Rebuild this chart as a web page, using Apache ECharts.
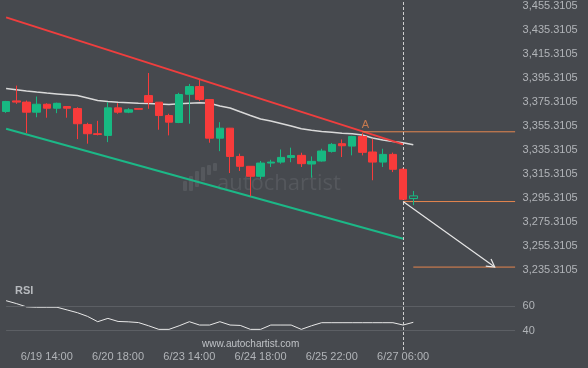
<!DOCTYPE html>
<html><head><meta charset="utf-8">
<script src="https://cdn.jsdelivr.net/npm/echarts@6/dist/echarts.min.js"></script>
<style>html,body{margin:0;padding:0;background:#46494e;}#c{width:588px;height:368px;}</style>
</head><body><div id="c"></div>
<script>
// ---- data ----
const opens  = [3367.2,3376.0,3375.0,3366.6,3373.2,3369.9,3371.3,3369.6,3356.4,3348.7,3347.3,3370.2,3366.6,3369.6,3380.4,3374.9,3363.8,3358.0,3381.5,3387.9,3377.1,3345.0,3353.3,3329.8,3321.6,3313.3,3324.3,3325.1,3329.0,3330.7,3323.5,3326.0,3334.0,3340.4,3338.4,3346.4,3333.5,3325.1,3331.5,3319.1,3294.8];
const closes = [3375.5,3375.0,3366.6,3373.2,3369.9,3374.0,3369.9,3357.0,3348.7,3348.1,3370.2,3366.6,3368.6,3369.0,3374.9,3363.8,3358.3,3381.3,3387.9,3377.1,3345.0,3353.3,3329.8,3321.6,3313.3,3324.3,3325.1,3329.0,3330.5,3323.8,3325.7,3334.3,3339.8,3338.7,3346.4,3333.2,3325.1,3331.5,3319.1,3294.2,3297.0];
const lows   = [3366.0,3373.5,3349.2,3362.4,3362.0,3365.8,3362.0,3344.2,3340.4,3347.3,3341.7,3365.3,3365.8,3368.8,3369.4,3352.0,3347.3,3357.5,3357.0,3375.7,3341.2,3334.2,3316.0,3317.7,3296.7,3311.0,3321.0,3323.8,3325.0,3321.0,3312.2,3325.5,3333.0,3329.3,3330.7,3330.7,3310.0,3321.0,3316.8,3293.6,3289.3];
const highs  = [3376.0,3388.7,3376.3,3379.6,3374.0,3374.5,3371.5,3370.7,3357.8,3359.4,3374.9,3374.1,3370.0,3369.8,3399.2,3375.0,3365.3,3382.7,3390.1,3393.4,3377.3,3358.3,3353.5,3332.1,3321.8,3326.0,3327.0,3335.6,3337.1,3332.9,3329.8,3336.2,3341.0,3343.9,3347.0,3349.2,3344.5,3336.2,3333.0,3320.0,3301.1];
const maValues = [3386.2,3385.2,3384.2,3383.3,3382.5,3381.8,3381.1,3380.4,3378.4,3376.3,3375.5,3374.8,3374.4,3374.0,3373.8,3373.5,3372.9,3373.6,3374.0,3374.4,3374.0,3371.7,3370.1,3366.9,3363.9,3361.0,3359.3,3357.2,3355.1,3352.8,3351.6,3350.6,3349.9,3349.1,3348.7,3347.7,3345.2,3343.5,3342.3,3341.2,3339.5];
const rsiValues = [64.3,62.0,59.3,59.0,59.0,59.0,56.8,54.6,51.6,47.3,50.0,47.5,47.2,46.6,44.0,41.1,41.1,44.0,47.3,44.6,44.6,47.3,44.6,44.3,41.1,41.1,44.6,44.6,44.6,41.1,44.0,46.5,46.5,46.5,46.5,46.5,46.5,46.5,46.5,44.6,46.8];
const resistanceLine = [[0, 3445.4], [39, 3339.8]];
const supportLine = [[0, 3352.8], [39, 3261.4]];
const levelA = 3350.3, levelA_from = 35;
const levelEnd = 3292.3, levelEnd_from = 39;
const levelTarget = 3237.8, levelTarget_from = 40;
const arrowFrom = [39, 3292.3], arrowTo = [48, 3237.8];
const patternEndIdx = 39;
const nCategories = 51;
const tickIdx = [4, 11, 18, 25, 32, 39];
const tickLabels = ['6/19 14:00', '6/20 18:00', '6/23 14:00', '6/24 18:00', '6/25 22:00', '6/27 06:00'];
const yTicks = [3235.3105,3255.3105,3275.3105,3295.3105,3315.3105,3335.3105,3355.3105,3375.3105,3395.3105,3415.3105,3435.3105,3455.3105];
const rsiTicks = [40, 60];
const pointLabel = 'A';

// ---- styling ----
const BG = '#46494e', UP = '#17b982', DOWN = '#f83b3b', ORANGE = '#e5864f', TXT = '#b1b4b8';
const FONT = '"Liberation Sans", Arial, sans-serif';
const categories = Array.from({length: nCategories}, (_, i) => String(i));
const labelMap = {}; tickIdx.forEach((k, i) => labelMap[k] = tickLabels[i]);

const candleData = opens.map((o, i) => {
  const item = {value: [o, closes[i], lows[i], highs[i]]};
  if (i === opens.length - 1) item.itemStyle = {color: BG, borderColor: UP, color0: BG, borderColor0: UP};
  return item;
});
const fmt = v => Number(v).toLocaleString('en-US', {minimumFractionDigits: 4, maximumFractionDigits: 4});

const chart = echarts.init(document.getElementById('c'), null, {renderer: 'canvas'});
chart.setOption({
  animation: false,
  backgroundColor: BG,
  textStyle: {fontFamily: FONT},
  grid: [
    {left: 6.1, width: 509, top: 0, height: 285},
    {left: 6.1, width: 509, top: 285, height: 65}
  ],
  xAxis: [
    {type: 'category', gridIndex: 0, data: categories, boundaryGap: false,
     axisLine: {show: false}, axisTick: {show: false}, axisLabel: {show: false}, splitLine: {show: false}},
    {type: 'category', gridIndex: 1, data: categories, boundaryGap: false,
     axisLine: {show: false}, axisTick: {show: false}, splitLine: {show: false},
     axisLabel: {interval: 0, margin: 1, color: TXT, fontSize: 11, fontFamily: FONT,
       formatter: (v, i) => labelMap[i] || ''}}
  ],
  yAxis: [
    {type: 'value', gridIndex: 0, position: 'right', min: 3222.9, max: 3459.2,
     axisLine: {show: false}, axisTick: {show: false}, splitLine: {show: false},
     axisLabel: {customValues: yTicks, formatter: fmt, margin: 7.5, color: TXT, fontSize: 11, fontFamily: FONT}},
    {type: 'value', gridIndex: 1, position: 'right', min: 24.4, max: 77,
     axisLine: {show: false}, axisTick: {show: false}, splitLine: {show: false},
     axisLabel: {customValues: rsiTicks, margin: 7.5, color: TXT, fontSize: 11, fontFamily: FONT}}
  ],
  graphic: [
    {type: 'group', left: 183, top: 163, z: 0, silent: true, children: [
      {type: 'rect', shape: {x: 0, y: 18, width: 4, height: 10, r: 1}, style: {fill: '#55585d'}},
      {type: 'rect', shape: {x: 6, y: 13, width: 4, height: 15, r: 1}, style: {fill: '#55585d'}},
      {type: 'rect', shape: {x: 12, y: 8, width: 4, height: 16, r: 1}, style: {fill: '#55585d'}},
      {type: 'rect', shape: {x: 18, y: 4, width: 4, height: 14, r: 1}, style: {fill: '#55585d'}},
      {type: 'rect', shape: {x: 24, y: 2, width: 4, height: 10, r: 1}, style: {fill: '#55585d'}},
      {type: 'rect', shape: {x: 30, y: 0, width: 4, height: 8, r: 1}, style: {fill: '#55585d'}}
    ]},
    {type: 'text', left: 217, top: 173, z: 0, silent: true,
     style: {text: 'autochartist', fill: '#55585d', font: '22px "Open Sans", sans-serif'}},
    {type: 'text', left: 15, top: 285, silent: true,
     style: {text: 'RSI', fill: '#b7babe', font: 'bold 11px ' + FONT}},
    {type: 'text', left: 202, top: 339, silent: true,
     style: {text: 'www.autochartist.com', fill: '#bfc2c6', font: '10px ' + FONT}}
  ],
  series: [
    {type: 'line', name: 'MA', xAxisIndex: 0, yAxisIndex: 0, data: maValues, showSymbol: false, symbol: 'none',
     lineStyle: {color: '#d9d9d9', width: 1.5}, z: 2},
    {type: 'line', name: 'resistance', xAxisIndex: 0, yAxisIndex: 0, data: resistanceLine, symbol: 'none',
     lineStyle: {color: '#ef3e3e', width: 2}, z: 3},
    {type: 'line', name: 'support', xAxisIndex: 0, yAxisIndex: 0, data: supportLine, symbol: 'none',
     lineStyle: {color: '#1cb887', width: 2}, z: 3},
    {type: 'line', name: 'levelA', xAxisIndex: 0, yAxisIndex: 0, data: [[levelA_from, levelA], [nCategories - 1, levelA]], symbol: 'none',
     lineStyle: {color: ORANGE, width: 1}, z: 3},
    {type: 'line', name: 'levelEnd', xAxisIndex: 0, yAxisIndex: 0, data: [[levelEnd_from, levelEnd], [nCategories - 1, levelEnd]], symbol: 'none',
     lineStyle: {color: ORANGE, width: 1}, z: 3},
    {type: 'line', name: 'levelTarget', xAxisIndex: 0, yAxisIndex: 0, data: [[levelTarget_from, levelTarget], [nCategories - 1, levelTarget]], symbol: 'none',
     lineStyle: {color: ORANGE, width: 1}, z: 3},
    {type: 'candlestick', xAxisIndex: 0, yAxisIndex: 0, data: candleData, barWidth: 8, z: 5, clip: true,
     itemStyle: {color: UP, color0: DOWN, borderColor: UP, borderColor0: DOWN, borderWidth: 1},
     markLine: {silent: true, symbol: 'none', label: {show: false},
       lineStyle: {color: '#cfcfcf', type: [3, 2], width: 1},
       data: [{xAxis: String(patternEndIdx)}]}},
    {type: 'scatter', xAxisIndex: 0, yAxisIndex: 0, data: [[levelA_from, levelA]], symbolSize: 0, z: 6,
     label: {show: true, formatter: pointLabel, position: 'top', distance: 1, offset: [3, 0], color: ORANGE, fontSize: 11, fontFamily: FONT}},
    {type: 'custom', xAxisIndex: 0, yAxisIndex: 0, z: 7,
     data: [[arrowFrom[0], arrowFrom[1], arrowTo[0], arrowTo[1]]],
     renderItem: function (params, api) {
       const p0 = api.coord([api.value(0), api.value(1)]);
       const p1 = api.coord([api.value(2), api.value(3)]);
       const ang = Math.atan2(p1[1] - p0[1], p1[0] - p0[0]);
       const L = 9, sp = Math.PI / 6;
       const a1 = [p1[0] - L * Math.cos(ang - sp), p1[1] - L * Math.sin(ang - sp)];
       const a2 = [p1[0] - L * Math.cos(ang + sp), p1[1] - L * Math.sin(ang + sp)];
       return {type: 'group', children: [
         {type: 'line', shape: {x1: p0[0], y1: p0[1], x2: p1[0], y2: p1[1]}, style: {stroke: '#e6e6e6', lineWidth: 1.2}},
         {type: 'polyline', shape: {points: [a1, p1, a2]}, style: {stroke: '#e6e6e6', lineWidth: 1.2, fill: null}}
       ]};
     }},
    {type: 'line', name: 'RSI', xAxisIndex: 1, yAxisIndex: 1, data: rsiValues, symbol: 'none',
     lineStyle: {color: '#e8e8e8', width: 1}, z: 4,
     markLine: {silent: true, symbol: 'none', label: {show: false},
       data: [
         {yAxis: rsiTicks[1], lineStyle: {color: '#5c5f64', type: 'solid', width: 1}},
         {yAxis: rsiTicks[0], lineStyle: {color: '#5c5f64', type: 'solid', width: 1}},
         {xAxis: String(patternEndIdx), lineStyle: {color: '#cfcfcf', type: [3, 2], width: 1}}
       ]}}
  ]
});
</script></body></html>
